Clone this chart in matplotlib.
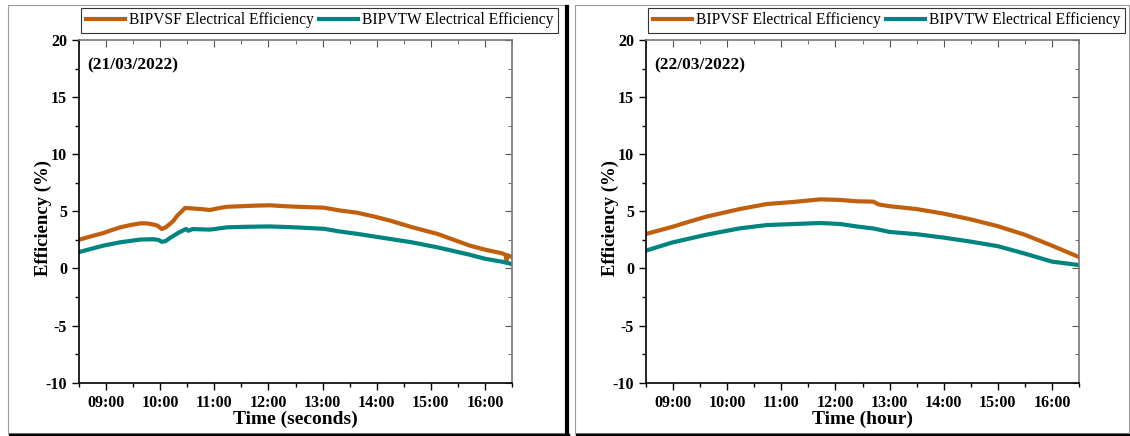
# Electrical efficiency of BIPVSF vs BIPVTW on two days

import matplotlib.pyplot as plt
from matplotlib.lines import Line2D
from matplotlib.patches import Rectangle
from matplotlib.ticker import FuncFormatter, MultipleLocator

plt.rcParams["font.family"] = ["Liberation Serif", "DejaVu Serif"]
plt.rcParams["axes.unicode_minus"] = False

SF_COLOR = "#c0600f"
TW_COLOR = "#008480"

# day 1 (21/03/2022) -- decimal hours / efficiency %
t1_sf = [8.49, 8.75, 8.95, 9.1, 9.26, 9.45, 9.63, 9.75, 9.87, 9.95, 10.03,
         10.1, 10.18, 10.25, 10.31, 10.4, 10.46, 10.6, 10.75, 10.92, 11.05,
         11.23, 11.5, 11.75, 12.03, 12.3, 12.55, 13.03, 13.3, 13.64, 13.95,
         14.24, 14.45, 14.65, 14.9, 15.12, 15.4, 15.72, 16.0, 16.32, 16.38,
         16.4, 16.42, 16.5]
e1_sf = [2.5, 2.85, 3.1, 3.35, 3.6, 3.8, 3.95, 3.95, 3.85, 3.75, 3.45,
         3.6, 3.9, 4.2, 4.6, 5.0, 5.3, 5.25, 5.2, 5.12, 5.25,
         5.4, 5.45, 5.5, 5.53, 5.45, 5.4, 5.32, 5.09, 4.88, 4.55,
         4.2, 3.9, 3.62, 3.3, 3.03, 2.55, 2.0, 1.65, 1.32, 1.2,
         0.75, 1.15, 1.0]
t1_tw = [8.49, 8.75, 8.95, 9.26, 9.63, 9.87, 9.97, 10.03, 10.1, 10.18,
         10.35, 10.48, 10.52, 10.6, 10.92, 11.23, 11.6, 12.03, 12.5, 13.03,
         13.3, 13.64, 14.24, 14.65, 15.12, 15.4, 15.72, 16.0, 16.32, 16.5]
e1_tw = [1.42, 1.75, 2.0, 2.29, 2.53, 2.56, 2.5, 2.33, 2.4, 2.67,
         3.16, 3.46, 3.3, 3.45, 3.4, 3.6, 3.65, 3.68, 3.6, 3.47,
         3.25, 3.03, 2.59, 2.29, 1.85, 1.55, 1.2, 0.85, 0.59, 0.38]

# day 2 (22/03/2022)
t2_sf = [8.49, 8.99, 9.3, 9.61, 10.23, 10.73, 11.22, 11.72, 12.09, 12.39,
         12.7, 12.8, 13.0, 13.5, 14.0, 14.5, 15.0, 15.5, 16.0, 16.5]
e2_sf = [3.01, 3.65, 4.1, 4.53, 5.2, 5.64, 5.82, 6.05, 6.0, 5.88,
         5.85, 5.6, 5.45, 5.2, 4.8, 4.3, 3.7, 2.95, 2.0, 1.0]
t2_tw = [8.49, 8.99, 9.61, 10.23, 10.73, 11.22, 11.72, 12.09, 12.39, 12.7,
         13.0, 13.5, 14.0, 14.5, 15.0, 15.5, 16.0, 16.5]
e2_tw = [1.55, 2.28, 2.95, 3.51, 3.8, 3.89, 3.98, 3.89, 3.68, 3.5,
         3.2, 3.0, 2.7, 2.35, 1.95, 1.3, 0.6, 0.3]

panels = [
    ("(21/03/2022)", "Time (seconds)", t1_sf, e1_sf, t1_tw, e1_tw),
    ("(22/03/2022)", "Time (hour)", t2_sf, e2_sf, t2_tw, e2_tw),
]

W, H = 1130, 436
fig = plt.figure(figsize=(W / 100, H / 100), dpi=100)


def fx(px):
    return px / W


def fy(py):
    return 1 - py / H


# panel frames (thin grey box + dark shadow on right/bottom)
for left, right in [(8, 566), (575, 1129)]:
    fig.patches.append(Rectangle((fx(left), fy(433)), fx(right - left),
                                 (433 - 5) / H, transform=fig.transFigure,
                                 fill=False, edgecolor="#9a9a9a", lw=0.8))
    fig.lines.append(Line2D([fx(left + 2), fx(right + 2)], [fy(434.5)] * 2,
                            transform=fig.transFigure, color="black", lw=2.5))
    if right < 1120:
        fig.lines.append(Line2D([fx(right + 1.5)] * 2, [fy(7), fy(435)],
                                transform=fig.transFigure, color="black",
                                lw=3))

axes_left = [79, 646]
for (date, xlabel, ts, es, tt, et), x0 in zip(panels, axes_left):
    ax = fig.add_axes([fx(x0), fy(382.7), 433 / W, (382.7 - 40) / H])
    ax.plot(ts, es, color=SF_COLOR, lw=3,
            label="BIPVSF Electrical Efficiency")
    ax.plot(tt, et, color=TW_COLOR, lw=3,
            label="BIPVTW Electrical Efficiency")

    ax.set_xlim(8.5, 16.5)
    ax.set_ylim(-10, 20)
    ax.xaxis.set_major_locator(MultipleLocator(1))
    ax.xaxis.set_minor_locator(MultipleLocator(0.5))
    ax.yaxis.set_major_locator(MultipleLocator(5))
    ax.yaxis.set_minor_locator(MultipleLocator(2.5))
    ax.xaxis.set_major_formatter(FuncFormatter(lambda v, p: f"{int(v):02d}:00"))

    ax.tick_params(which="both", direction="out", top=False, right=False,
                   labelsize=11.5, width=1)
    ax.tick_params(which="major", length=5)
    ax.tick_params(which="minor", length=3)
    for lab in ax.get_xticklabels() + ax.get_yticklabels():
        lab.set_fontweight("bold")

    # mirrored ticks pointing inward on top/right
    sec_x = ax.secondary_xaxis("top")
    sec_x.xaxis.set_major_locator(MultipleLocator(1))
    sec_x.xaxis.set_minor_locator(MultipleLocator(0.5))
    sec_x.tick_params(which="both", direction="in", labeltop=False,
                      colors="#555555")
    sec_x.tick_params(which="major", length=5)
    sec_x.tick_params(which="minor", length=3)
    sec_x.spines["top"].set_visible(False)
    sec_y = ax.secondary_yaxis("right")
    sec_y.yaxis.set_major_locator(MultipleLocator(5))
    sec_y.yaxis.set_minor_locator(MultipleLocator(2.5))
    sec_y.tick_params(which="both", direction="in", labelright=False,
                      colors="#555555")
    sec_y.tick_params(which="major", length=5)
    sec_y.tick_params(which="minor", length=3)
    sec_y.spines["right"].set_visible(False)

    for side in ["top", "right"]:
        ax.spines[side].set_color("#777777")
    for side in ax.spines:
        ax.spines[side].set_linewidth(1.2)

    ax.set_xlabel(xlabel, fontsize=14, fontweight="bold", labelpad=0)
    ax.set_ylabel("Efficiency (%)", fontsize=13.5, fontweight="bold")
    ax.yaxis.set_label_coords(-0.063, 0.48)
    ax.text(0.02, 0.95, date, transform=ax.transAxes, fontsize=12.5,
            fontweight="bold", va="top", ha="left")

    leg = ax.legend(loc="lower left", bbox_to_anchor=(0.005, 1.02), ncol=2,
                    fontsize=11.2, frameon=True, fancybox=False,
                    handlelength=2.5, handletextpad=0.3, columnspacing=0.3,
                    borderpad=0.3, borderaxespad=0)
    leg.get_frame().set_edgecolor("black")
    leg.get_frame().set_linewidth(0.8)

fig.savefig("out.png", dpi=100)
